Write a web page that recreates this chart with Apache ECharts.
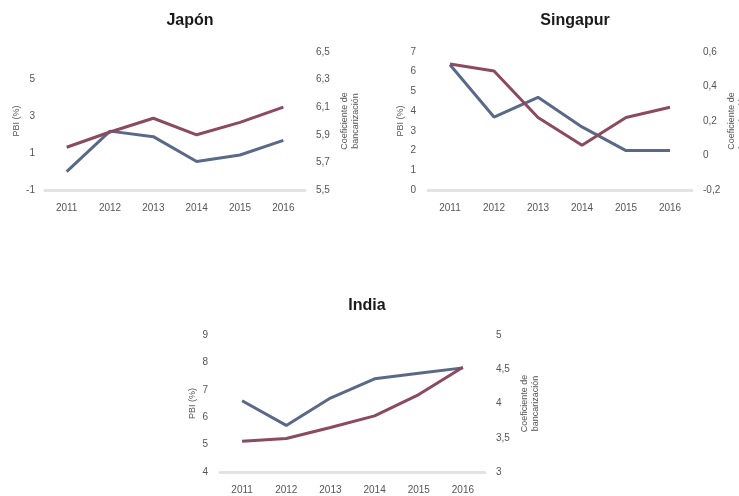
<!DOCTYPE html>
<html>
<head>
<meta charset="utf-8">
<script src="https://cdn.jsdelivr.net/npm/echarts@6/dist/echarts.min.js"></script>
<style>
  html, body { margin: 0; padding: 0; background: #fff; }
  #chart { width: 739px; height: 496px; }
</style>
</head>
<body>
<div id="chart"></div>
<script>
// datos
const years = ['2011', '2012', '2013', '2014', '2015', '2016'];

const japonPbi = [0.0, 2.2, 1.9, 0.55, 0.9, 1.7];
const japonCoef = [5.81, 5.92, 6.02, 5.90, 5.99, 6.10];

const singapurPbi = [6.35, 3.7, 4.7, 3.2, 2.0, 2.0];
const singapurCoef = [0.53, 0.49, 0.22, 0.06, 0.22, 0.28];

const indiaPbi = [6.6, 5.7, 6.7, 7.4, 7.6, 7.8];
const indiaCoef = [3.45, 3.49, 3.65, 3.82, 4.13, 4.53];

const leftName = 'PBI (%)';
const rightName = 'Coeficiente de\nbancarización';

const BLUE = '#5a6987';
const RED = '#8c4a5f';
const FONT = '"Liberation Sans Narrow", "Arial Narrow", "Liberation Sans", sans-serif';

const chart = echarts.init(document.getElementById('chart'));

function xAxisFor(gridIndex) {
  return {
    type: 'category',
    gridIndex: gridIndex,
    data: years,
    axisLine: { onZero: false, lineStyle: { color: '#e3e3e3', width: 3 } },
    axisTick: { show: false },
    axisLabel: { color: '#555', fontSize: 10, fontFamily: FONT, margin: 13 }
  };
}

function yAxisFor(gridIndex, side, min, max, interval, fmt, gap, margin) {
  const left = side === 'left';
  return {
    type: 'value',
    gridIndex: gridIndex,
    position: side,
    min: min,
    max: max,
    interval: interval,
    name: left ? leftName : rightName,
    nameLocation: 'middle',
    nameRotate: 90,
    nameGap: gap,
    nameTextStyle: { color: '#555', fontSize: 9, fontFamily: FONT, lineHeight: 11 },
    axisLine: { show: false },
    axisTick: { show: false },
    splitLine: { show: false },
    axisLabel: {
      color: '#555',
      fontSize: 10,
      fontFamily: FONT,
      margin: margin,
      showMaxLabel: !left || max % interval === (min % interval + interval) % interval,
      formatter: fmt
    }
  };
}

const comma = (d) => (v) => v.toFixed(d).replace('.', ',');
const plain = (v) => String(v);

function lineSeries(data, color, xi, yi) {
  return {
    type: 'line',
    data: data,
    xAxisIndex: xi,
    yAxisIndex: yi,
    symbol: 'none',
    lineStyle: { color: color, width: 3 },
    itemStyle: { color: color }
  };
}

const titleStyle = { color: '#1a1a1a', fontSize: 16, fontWeight: 'bold', fontFamily: FONT };

chart.setOption({
  animation: false,
  backgroundColor: '#fff',
  title: [
    { text: 'Japón', left: 185, top: 8, textAlign: 'center', textStyle: titleStyle },
    { text: 'Singapur', left: 570, top: 8, textAlign: 'center', textStyle: titleStyle },
    { text: 'India', left: 362, top: 293, textAlign: 'center', textStyle: titleStyle }
  ],
  grid: [
    { left: 45, top: 52, width: 260, height: 138, outerBoundsMode: 'none' },
    { left: 428, top: 52, width: 264, height: 138, outerBoundsMode: 'none' },
    { left: 220, top: 335, width: 265, height: 137, outerBoundsMode: 'none' }
  ],
  xAxis: [xAxisFor(0), xAxisFor(1), xAxisFor(2)],
  yAxis: [
    yAxisFor(0, 'left', -1, 6.5, 2, plain, 19, 10),
    yAxisFor(0, 'right', 5.5, 6.5, 0.2, comma(1), 34, 11),
    yAxisFor(1, 'left', 0, 7, 1, plain, 22, 12),
    yAxisFor(1, 'right', -0.2, 0.6, 0.2, (v) => Math.abs(v) < 1e-9 ? '0' : comma(1)(v), 34, 11),
    yAxisFor(2, 'left', 4, 9, 1, plain, 22, 12),
    yAxisFor(2, 'right', 3, 5, 0.5, (v) => Number.isInteger(v) ? String(v) : comma(1)(v), 34, 11)
  ],
  series: [
    lineSeries(japonPbi, BLUE, 0, 0),
    lineSeries(japonCoef, RED, 0, 1),
    lineSeries(singapurPbi, BLUE, 1, 2),
    lineSeries(singapurCoef, RED, 1, 3),
    lineSeries(indiaPbi, BLUE, 2, 4),
    lineSeries(indiaCoef, RED, 2, 5)
  ]
});
</script>
</body>
</html>
